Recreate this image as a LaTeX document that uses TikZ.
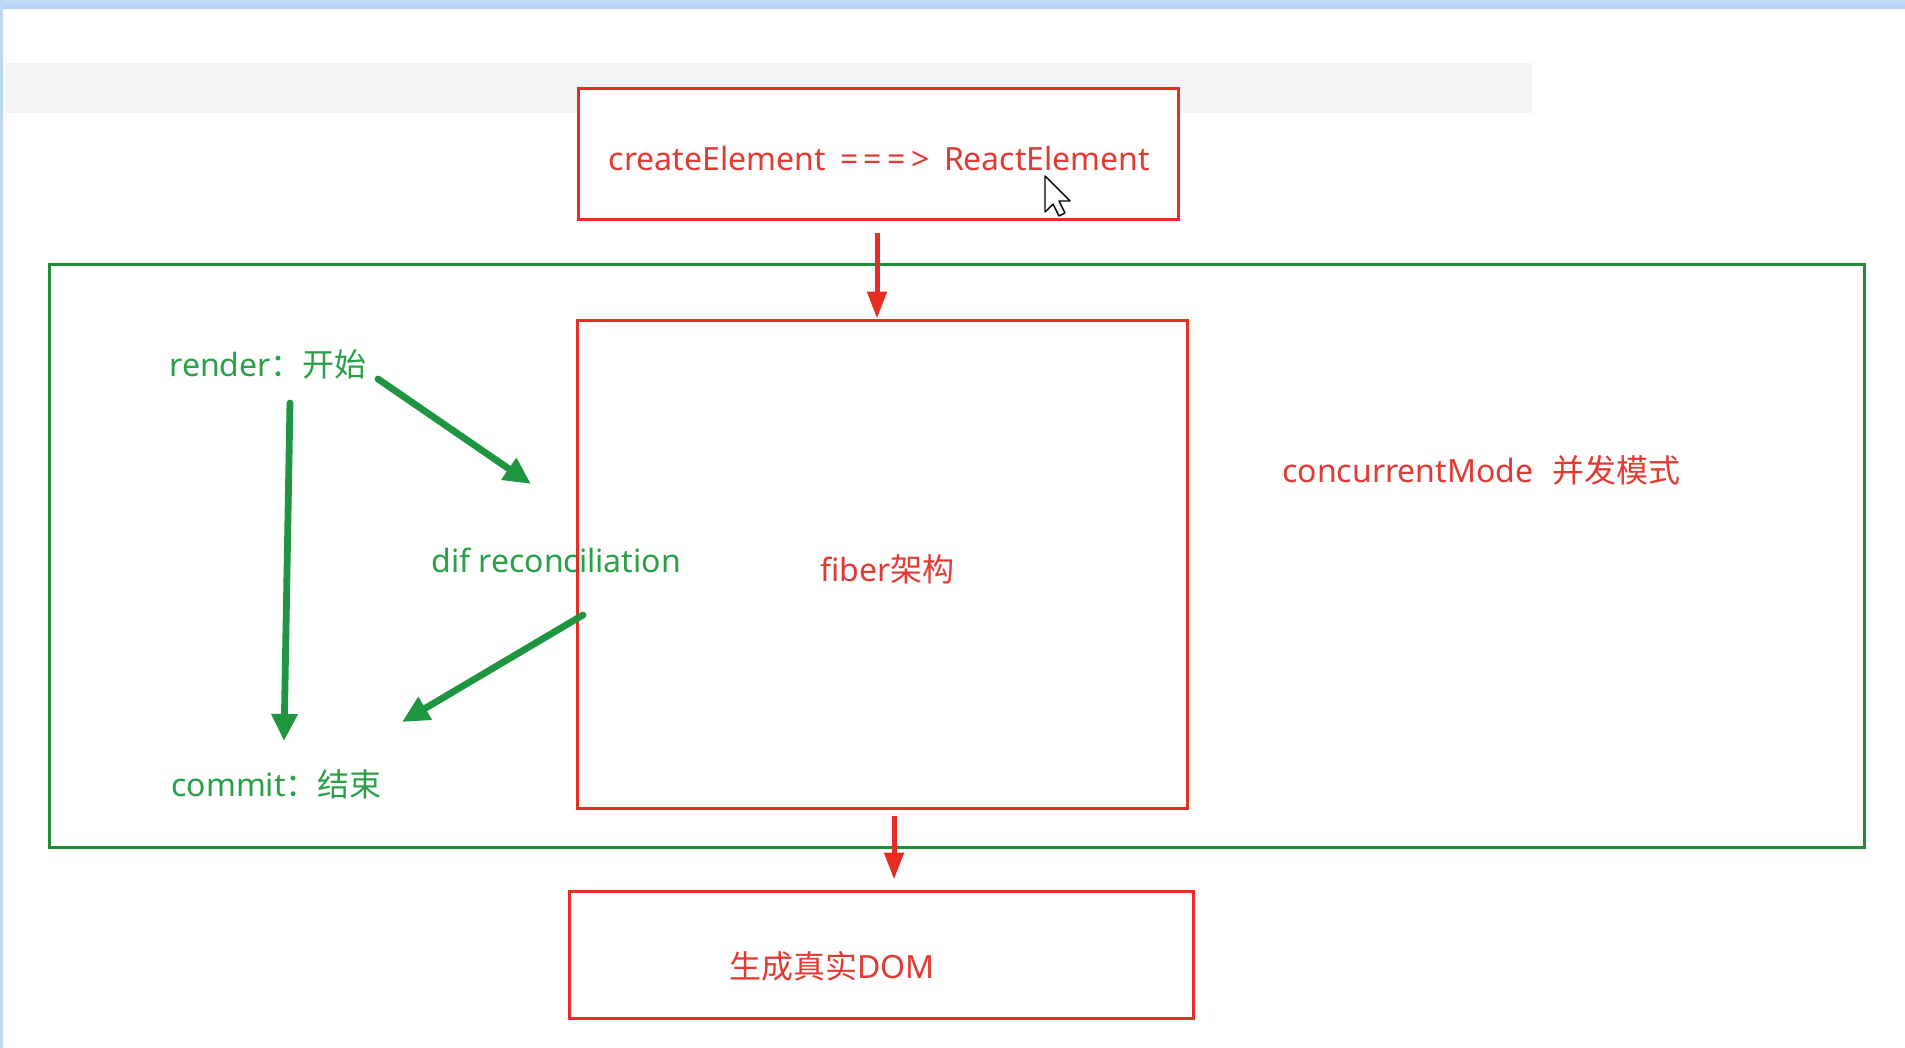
\documentclass[tikz,border=0pt]{standalone}
\usepackage{fontspec}
\setmainfont{Noto Sans}
\newfontfamily\cjk{Noto Sans CJK SC}
\usetikzlibrary{arrows.meta}
\definecolor{boxred}{RGB}{228,45,35}
\definecolor{txtred}{RGB}{226,58,50}
\definecolor{boxgreen}{RGB}{28,142,56}
\definecolor{txtgreen}{RGB}{40,160,70}
\definecolor{arrgreen}{RGB}{30,150,65}
\definecolor{band}{RGB}{243,244,245}
\definecolor{topblue}{RGB}{175,205,245}
\tikzset{
  redbox/.style={draw=boxred, line width=1.5pt, inner sep=0pt, rectangle},
  greenbox/.style={draw=boxgreen, line width=1.5pt, inner sep=0pt, rectangle},
  redtxt/.style={text=txtred, inner sep=0pt, font=\fontsize{16}{19}\selectfont},
  greentxt/.style={text=txtgreen, inner sep=0pt, font=\fontsize{16}{19}\selectfont},
  redarrow/.style={draw=boxred, line width=2.5pt, -{Triangle[length=13.5pt,width=9.5pt]}},
  greenarrow/.style={draw=arrgreen, line width=3.4pt, -{Triangle[length=13.5pt,width=12.5pt]}, line cap=round}
}
\begin{document}
\begin{tikzpicture}[x=0.5pt,y=-0.5pt]
\useasboundingbox (0,0) rectangle (1905,1048);
\fill[white] (0,0) rectangle (1905,1048);
% window chrome
\shade[top color=topblue!70, bottom color=topblue] (0,0) rectangle (1905,9);
\fill[topblue!80] (0,0) rectangle (3,1048);
\fill[band] (6,63) rectangle (1532,113);

% boxes
\node[greenbox, minimum width=907.5pt, minimum height=291pt] (mode) at (956.5,556) {};
\node[redbox, fill=white, minimum width=300pt, minimum height=65.5pt] (top) at (878,154.5) {};
\node[redtxt] (toptxt) at (879.5,159) {createElement\hspace{0.45em}=\hspace{0.17em}=\hspace{0.17em}=\hspace{0.17em}>\hspace{0.45em}ReactElement};

\node[greentxt, anchor=west] (render) at (169,364) {render{\cjk：开始}};
\node[greentxt, anchor=west] (dif) at (431,560) {dif reconciliation};
\node[greentxt, anchor=west] (commit) at (171,784) {commit{\cjk：结束}};

\node[redbox, minimum width=305pt, minimum height=244pt] (fiber) at (882,564) {};
\node[redtxt] (fibertxt) at (887.5,569) {fiber{\cjk 架构}};

\node[redtxt, anchor=west] (conc) at (1282,470) {concurrentMode\hspace{0.6em}{\cjk 并发模式}};

\node[redbox, minimum width=312pt, minimum height=63.5pt] (dom) at (881,954.5) {};
\node[redtxt, anchor=west] (domtxt) at (729,966) {{\cjk 生成真实}DOM};

% red arrows
\coordinate (a1) at (877,233);
\draw[redarrow] (a1) -- (a1 |- fiber.north);
\coordinate (a2) at (894,816);
\draw[redarrow, shorten >=5pt] (a2) -- (a2 |- dom.north);

% green arrows
\coordinate (g1s) at (290,403);
\coordinate (g1e) at (284,741);
\coordinate (g2s) at (378,379);
\coordinate (g2e) at (531,484);
\coordinate (g3s) at (583,615);
\coordinate (g3e) at (402,722);
\draw[greenarrow] (g1s) -- (g1e);
\draw[greenarrow] (g2s) -- (g2e);
\draw[greenarrow] (g3s) -- (g3e);

% mouse cursor
\coordinate (cur) at (1045,176);
\filldraw[fill=white, draw=black, line width=0.7pt, line join=round]
  (cur) -- ++(0,36) -- ++(8,-8) -- ++(6,12) -- ++(6,-3) -- ++(-6,-12) -- ++(11,0) -- cycle;
\end{tikzpicture}
\end{document}
